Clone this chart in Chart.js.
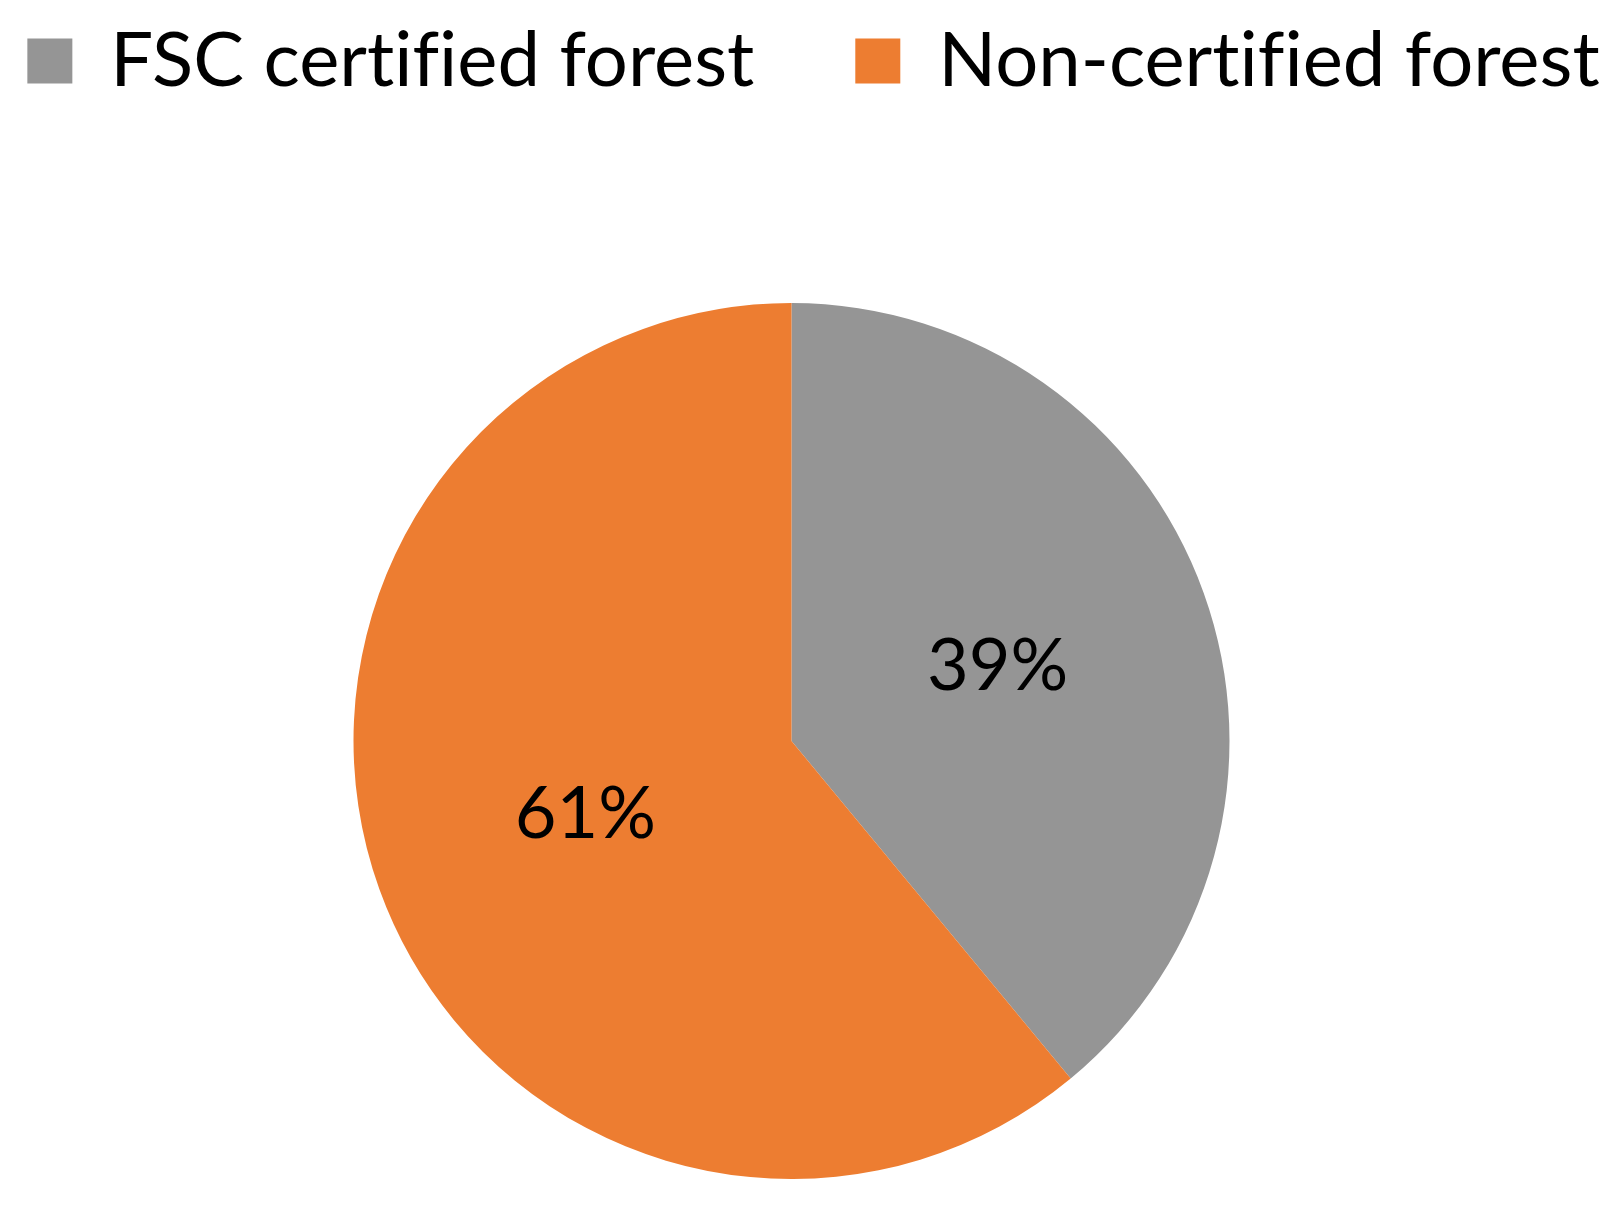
<!DOCTYPE html>
<html>
<head>
<meta charset="utf-8">
<script src="https://cdn.jsdelivr.net/npm/chart.js@4.4.1/dist/chart.umd.min.js"></script>
<style>
  html, body { margin: 0; padding: 0; background: #fff; }
  #wrap { width: 1611px; height: 1208px; }
</style>
</head>
<body>
<div id="wrap"><canvas id="chart"></canvas></div>
<script>
// Share of forest area, FSC certified vs not.
const categories = ['FSC certified forest', 'Non-certified forest'];
const shares = [39, 61];
const colours = ['#959595', '#ED7D31'];

const FONT = 'Lato, "Open Sans", sans-serif';

// No "fi" ligatures, the original text has none.
function plainText(ctx) {
  ctx.textRendering = 'optimizeSpeed';
}

// Percent labels at the middle of each slice, like the spreadsheet's data labels.
const sliceLabels = {
  id: 'sliceLabels',
  afterDatasetsDraw(chart) {
    const { ctx } = chart;
    const meta = chart.getDatasetMeta(0);
    const total = shares.reduce((s, v) => s + v, 0);
    ctx.save();
    ctx.font = `72px ${FONT}`;
    ctx.fillStyle = '#000';
    ctx.textAlign = 'center';
    ctx.textBaseline = 'middle';
    meta.data.forEach((arc, i) => {
      const { x, y } = arc.tooltipPosition();
      ctx.fillText(`${Math.round((shares[i] / total) * 100)}%`, x, y);
    });
    ctx.restore();
  },
};

// One legend row centred on the whole canvas (the pie sits a bit left of
// centre), with a tall gap below it before the pie.
const legendRow = {
  id: 'legendRow',
  beforeInit(chart) {
    const legend = chart.legend;
    const fit = legend.fit;
    legend.fit = function () {
      const w = this.maxWidth;
      this.maxWidth = 3000;
      fit.call(this);
      this.maxWidth = w;
      this.width = w;
      this.height = 381;
    };
  },
  afterLayout(chart) {
    const legend = chart.legend;
    legend.left = -192;
    legend.right = chart.width + 208;
    legend.width = legend.right - legend.left;
  },
  beforeUpdate(chart) { plainText(chart.ctx); },
  beforeDraw(chart) { plainText(chart.ctx); },
};

new Chart(document.getElementById('chart'), {
  type: 'pie',
  data: {
    labels: categories,
    datasets: [{
      data: shares,
      backgroundColor: colours,
      borderWidth: 0,
    }],
  },
  plugins: [sliceLabels, legendRow],
  options: {
    responsive: true,
    maintainAspectRatio: false,
    animation: false,
    layout: { padding: { top: -78, right: 28, bottom: 29, left: 0 } },
    plugins: {
      tooltip: { enabled: false },
      legend: {
        position: 'top',
        labels: {
          color: '#000',
          boxWidth: 45,
          boxHeight: 45,
          padding: 101,
          font: { family: FONT, size: 76 },
        },
      },
    },
  },
});
</script>
</body>
</html>
